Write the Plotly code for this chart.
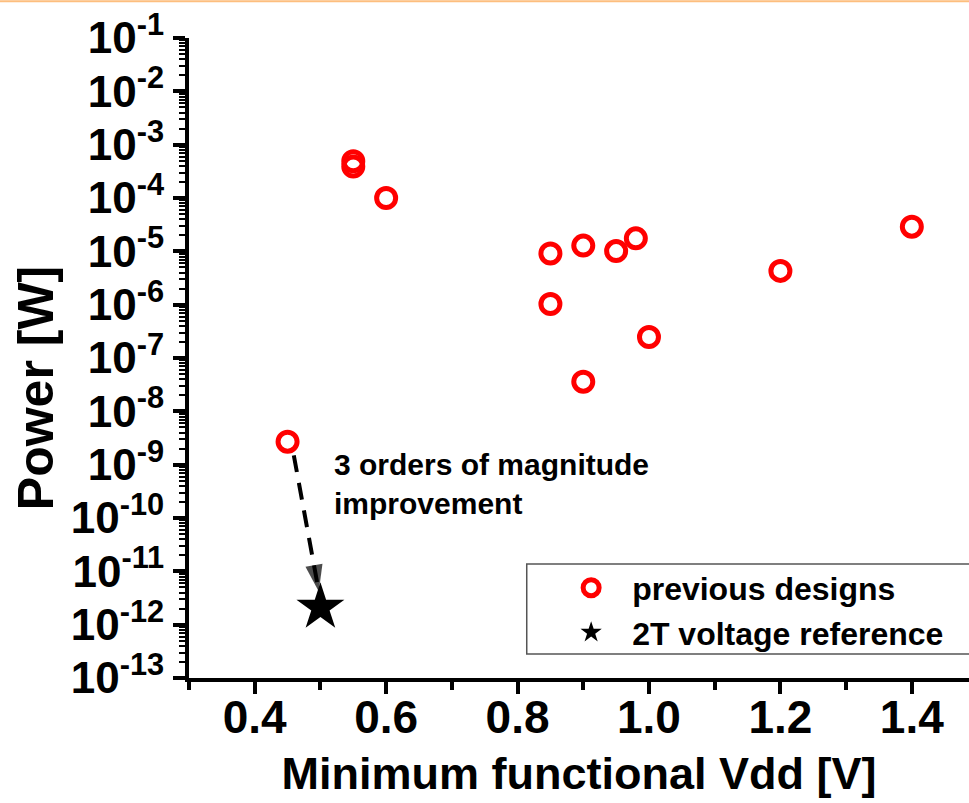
import plotly.graph_objects as go

# Previous low-power voltage reference designs: minimum Vdd [V] vs power [W]
prev_vdd = [0.45, 0.55, 0.55, 0.60, 0.85, 0.85, 0.90, 0.90, 0.95, 0.98, 1.00, 1.20, 1.40]
prev_power = [2.7e-9, 4.9e-4, 3.9e-4, 1.0e-4, 9.1e-6, 1.03e-6, 1.28e-5, 3.6e-8,
              1.01e-5, 1.75e-5, 2.47e-7, 4.3e-6, 2.9e-5]

# This work: 2T voltage reference
new_vdd = [0.50]
new_power = [2.1e-12]

# Dashed improvement arrow (tail -> head)
arrow_vdd = [0.4595, 0.4975]
arrow_power = [1.5e-9, 4.2e-12]

x_ticks = [0.4, 0.6, 0.8, 1.0, 1.2, 1.4]
x_minor = [0.3, 0.5, 0.7, 0.9, 1.1, 1.3]
y_exponents = list(range(-13, 0))

FONT = "Liberation Sans, Arial, sans-serif"

fig = go.Figure()

fig.add_trace(go.Scatter(
    x=prev_vdd, y=prev_power, mode="markers", name="previous designs",
    marker=dict(symbol="circle-open", size=19, color="#FF0000",
                line=dict(width=5, color="#FF0000")),
))

fig.add_trace(go.Scatter(
    x=arrow_vdd, y=arrow_power, mode="lines", showlegend=False, hoverinfo="skip",
    line=dict(color="black", width=4, dash="17px,11px"),
))
fig.add_trace(go.Scatter(
    x=arrow_vdd, y=arrow_power, mode="markers", showlegend=False, hoverinfo="skip",
    marker=dict(symbol="arrow", size=[0, 28], color="black", angleref="previous",
                line=dict(width=0)),
))

fig.add_trace(go.Scatter(
    x=new_vdd, y=new_power, mode="markers", name="2T voltage reference",
    marker=dict(symbol="star", size=36, color="black", line=dict(width=0)),
))

fig.update_layout(
    width=969, height=803,
    margin=dict(l=189, r=0, t=38, b=125),
    paper_bgcolor="white", plot_bgcolor="white",
    font=dict(family=FONT, color="black"),
    showlegend=True,
    legend=dict(
        x=0.463, y=0.1837, xanchor="left", yanchor="top",
        bgcolor="rgba(0,0,0,0)", borderwidth=0,
        font=dict(family=FONT, size=32, weight="bold", color="black"),
        itemsizing="trace", itemwidth=72,
    ),
    xaxis=dict(
        range=[0.3, 1.487], showgrid=False, zeroline=False,
        showline=True, linecolor="black", linewidth=4,
        tickmode="array", tickvals=x_ticks, ticktext=[f"{v:.1f}" for v in x_ticks],
        ticks="outside", ticklen=12, tickwidth=4, tickcolor="black",
        ticklabelstandoff=-16,
        tickfont=dict(family=FONT, size=46, weight="bold"),
        minor=dict(tickmode="array", tickvals=x_minor, ticks="outside",
                   ticklen=8, tickwidth=4, tickcolor="black"),
        title=dict(text="Minimum functional Vdd [V]", standoff=16,
                   font=dict(family=FONT, size=45, weight="bold")),
    ),
    yaxis=dict(
        type="log", range=[-13, -1], showgrid=False, zeroline=False,
        showline=True, linecolor="black", linewidth=4,
        tickmode="array", tickvals=[10.0 ** e for e in y_exponents],
        ticktext=[f"10<sup>{e}</sup>" for e in y_exponents],
        ticks="outside", ticklen=12, tickwidth=4, tickcolor="black",
        tickfont=dict(family=FONT, size=44, weight="bold"),
        minor=dict(dtick="D1", ticks="outside", ticklen=6, tickwidth=2,
                   tickcolor="black"),
    ),
    annotations=[
        dict(
            text="Power [W]", textangle=-90,
            xref="paper", yref="paper", x=-0.196, y=0.453,
            xanchor="center", yanchor="middle", showarrow=False,
            font=dict(family=FONT, size=50, weight="bold", color="black"),
        ),
        dict(
            text="3 orders of magnitude<br>improvement",
            xref="paper", yref="paper", x=0.183, y=0.303,
            xanchor="left", yanchor="middle", align="left", showarrow=False,
            font=dict(family=FONT, size=30, weight="bold", color="black"),
        ),
    ],
    shapes=[
        # legend frame
        dict(type="rect", xref="paper", yref="paper",
             x0=0.433, x1=1.02, y0=0.0375, y1=0.178,
             line=dict(color="#555555", width=1.5), fillcolor="rgba(0,0,0,0)"),
        # thin orange rule across the top of the page
        dict(type="line", xref="paper", yref="paper",
             x0=-0.3, x1=1.02, y0=1.0575, y1=1.0575,
             line=dict(color="#FDBE7E", width=2)),
    ],
)

fig.write_html("out.html")
